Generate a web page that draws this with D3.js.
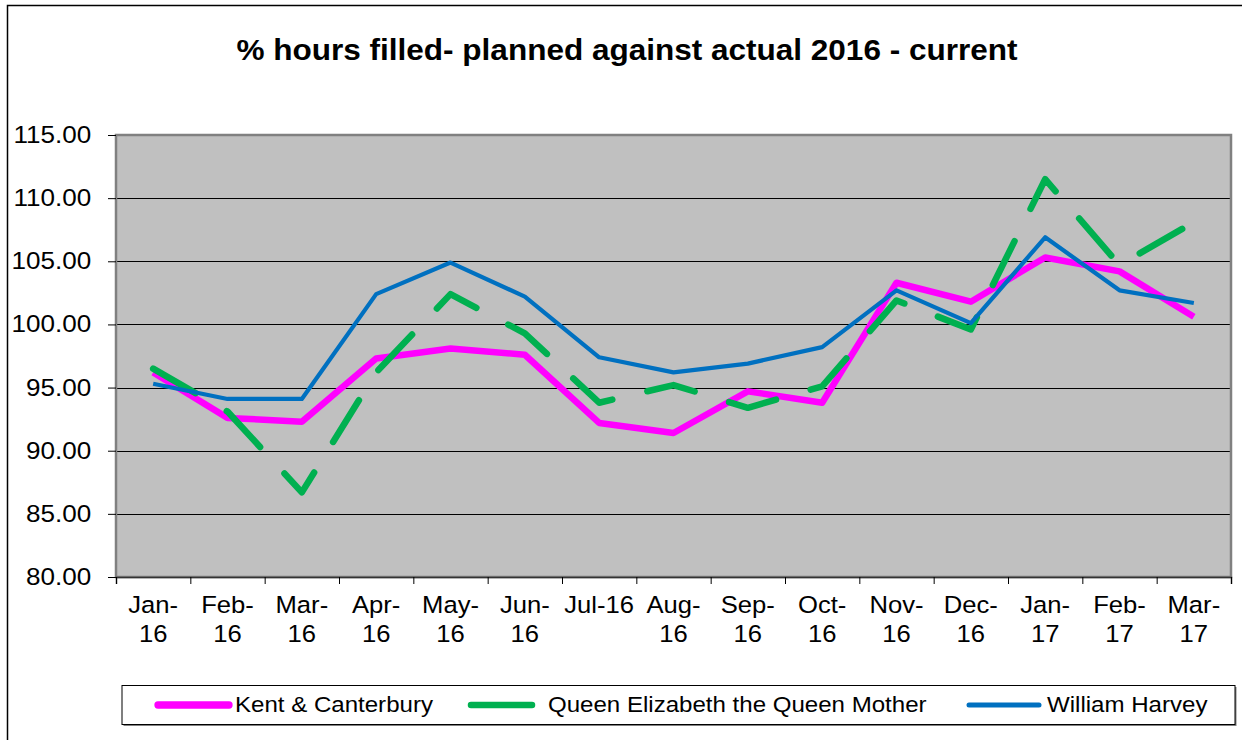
<!DOCTYPE html>
<html>
<head>
<meta charset="utf-8">
<script src="https://cdn.jsdelivr.net/npm/d3@7"></script>
<style>
  body { margin: 0; background: #fff; }
  text { font-family: 'Liberation Sans', Arial, sans-serif; fill: #000; }
</style>
</head>
<body>
<div id="chart-area"></div>
<script>
const width = 1242;
const height = 740;

// data
const months = ['Jan-16', 'Feb-16', 'Mar-16', 'Apr-16', 'May-16', 'Jun-16', 'Jul-16', 'Aug-16',
  'Sep-16', 'Oct-16', 'Nov-16', 'Dec-16', 'Jan-17', 'Feb-17', 'Mar-17'];
const tickLabels = [['Jan-', '16'], ['Feb-', '16'], ['Mar-', '16'], ['Apr-', '16'], ['May-', '16'],
  ['Jun-', '16'], ['Jul-16'], ['Aug-', '16'], ['Sep-', '16'], ['Oct-', '16'], ['Nov-', '16'],
  ['Dec-', '16'], ['Jan-', '17'], ['Feb-', '17'], ['Mar-', '17']];
const kent = [96.2, 92.6, 92.3, 97.3, 98.1, 97.6, 92.2, 91.4, 94.7, 93.8, 103.3, 101.8, 105.3, 104.2, 100.6];
const qeqm = [96.5, 93.1, 86.7, 96.2, 102.4, 99.3, 93.8, 95.2, 93.4, 95.1, 101.9, 99.6, 111.5, 104.7, 108.1];
const harvey = [95.3, 94.1, 94.1, 102.4, 104.9, 102.2, 97.4, 96.2, 96.9, 98.2, 102.7, 100.1, 106.9, 102.7, 101.7];
const yTicks = [80, 85, 90, 95, 100, 105, 110, 115];
const seriesNames = ['Kent & Canterbury', 'Queen Elizabeth the Queen Mother', 'William Harvey'];
const title = '% hours filled- planned against actual 2016 - current';

const plot = { left: 116, right: 1231, top: 135, bottom: 577 };

const series = [
  { name: seriesNames[0], values: kent, color: '#ff00ff', width: 6.5, dash: null },
  { name: seriesNames[1], values: qeqm, color: '#00b050', width: 6.5, dash: '49,36' },
  { name: seriesNames[2], values: harvey, color: '#0070c0', width: 4.2, dash: null },
];

const svg = d3
  .select('#chart-area')
  .append('svg')
  .attr('width', width)
  .attr('height', height);

svg.append('rect').attr('width', width).attr('height', height).attr('fill', '#fff');

// outer chart border (runs off right / bottom)
svg
  .append('rect')
  .attr('x', 7.5)
  .attr('y', 5.5)
  .attr('width', 1400)
  .attr('height', 900)
  .attr('fill', 'none')
  .attr('stroke', '#000')
  .attr('stroke-width', 1.5);

svg
  .append('text')
  .attr('x', 627)
  .attr('y', 60)
  .attr('text-anchor', 'middle')
  .attr('font-size', 30)
  .attr('font-weight', 'bold')
  .attr('textLength', 781)
  .attr('lengthAdjust', 'spacingAndGlyphs')
  .text(title);

const x = d3.scaleBand().domain(months).range([plot.left, plot.right]).padding(0);
const xIdx = d3.scaleLinear().domain([0, months.length]).range([plot.left, plot.right]);
const y = d3.scaleLinear().domain([80, 115]).range([plot.bottom, plot.top]);

// plot background
svg
  .append('rect')
  .attr('x', plot.left)
  .attr('y', plot.top)
  .attr('width', plot.right - plot.left)
  .attr('height', plot.bottom - plot.top)
  .attr('fill', '#c0c0c0');

// gridlines
svg
  .append('g')
  .selectAll('line')
  .data(yTicks)
  .join('line')
  .attr('x1', plot.left)
  .attr('x2', plot.right)
  .attr('y1', (d) => Math.round(y(d)) + 0.5)
  .attr('y2', (d) => Math.round(y(d)) + 0.5)
  .attr('stroke', '#000')
  .attr('stroke-width', 1);

svg
  .append('rect')
  .attr('x', plot.left)
  .attr('y', plot.top)
  .attr('width', plot.right - plot.left)
  .attr('height', plot.bottom - plot.top)
  .attr('fill', 'none')
  .attr('stroke', '#808080')
  .attr('stroke-width', 2.5);

// y axis
const yAxis = svg
  .append('g')
  .attr('transform', `translate(${plot.left},0)`)
  .call(
    d3
      .axisLeft(y)
      .tickValues(yTicks)
      .tickSize(8)
      .tickPadding(14)
      .tickFormat(d3.format('.2f'))
  );
yAxis.select('.domain').remove();
yAxis.selectAll('line').attr('stroke', '#000');
yAxis
  .selectAll('text')
  .attr('font-size', 23.3)
  .attr('font-family', null)
  .attr('transform', 'scale(1.12,1)');

// x axis tick marks at category boundaries
const xAxis = svg
  .append('g')
  .attr('transform', `translate(0,${plot.bottom})`)
  .call(d3.axisBottom(xIdx).tickValues(d3.range(months.length + 1)).tickSize(7).tickFormat(''));
xAxis.select('.domain').attr('stroke', '#333').attr('stroke-width', 1.5);
xAxis.selectAll('line').attr('stroke', '#000');

// wrapped category labels
svg
  .append('g')
  .selectAll('text')
  .data(months)
  .join('text')
  .attr('transform', (d) => `translate(${x(d) + x.bandwidth() / 2},613.3) scale(1.1,1)`)
  .attr('text-anchor', 'middle')
  .attr('font-size', 23.3)
  .selectAll('tspan')
  .data((d, i) => tickLabels[i])
  .join('tspan')
  .attr('x', 0)
  .attr('y', (d, i) => i * 28.4)
  .text((d) => d);

// series lines
const line = d3
  .line()
  .x((d, i) => x(months[i]) + x.bandwidth() / 2)
  .y((d) => y(d));

svg
  .append('g')
  .selectAll('path')
  .data(series)
  .join('path')
  .attr('d', (d) => line(d.values))
  .attr('fill', 'none')
  .attr('stroke', (d) => d.color)
  .attr('stroke-width', (d) => d.width)
  .attr('stroke-linejoin', 'round')
  .attr('stroke-linecap', (d) => (d.dash ? 'round' : 'butt'))
  .attr('stroke-dasharray', (d) => d.dash);

// legend
const legend = svg.append('g');
legend
  .append('rect')
  .attr('x', 123.5)
  .attr('y', 687)
  .attr('width', 1113)
  .attr('height', 39)
  .attr('fill', '#808080');
legend
  .append('rect')
  .attr('x', 122)
  .attr('y', 685.5)
  .attr('width', 1113)
  .attr('height', 39)
  .attr('fill', '#fff')
  .attr('stroke', '#000')
  .attr('stroke-width', 1);

const legendPos = [
  { x1: 158, x2: 229, tx: 235 },
  { x1: 471, x2: 532, tx: 548 },
  { x1: 969, x2: 1039, tx: 1047 },
];

const items = legend
  .selectAll('g.item')
  .data(series)
  .join('g')
  .attr('class', 'item');

items
  .append('line')
  .attr('x1', (d, i) => legendPos[i].x1)
  .attr('x2', (d, i) => legendPos[i].x2)
  .attr('y1', 705)
  .attr('y2', 705)
  .attr('stroke', (d) => d.color)
  .attr('stroke-width', (d) => (d.dash ? 6.5 : d.width + 0.8))
  .attr('stroke-linecap', 'round');

items
  .append('text')
  .attr('transform', (d, i) => `translate(${legendPos[i].tx},711.7) scale(1.08,1)`)
  .attr('font-size', 22.3)
  .text((d) => d.name);
</script>
</body>
</html>
